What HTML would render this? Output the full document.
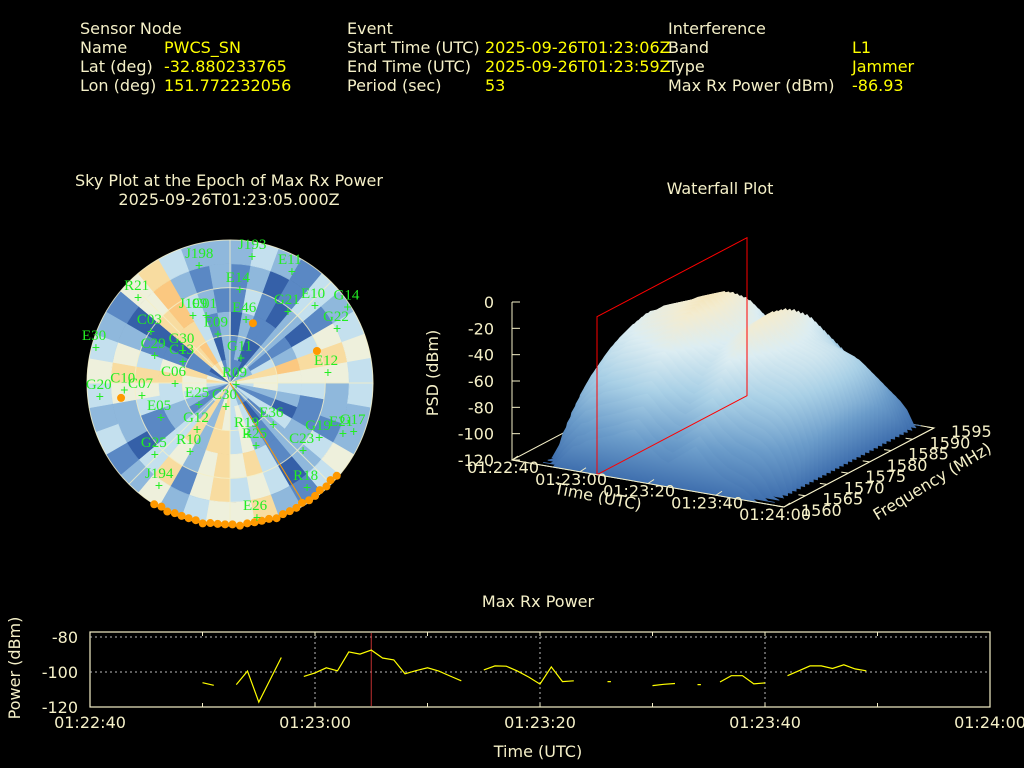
<!DOCTYPE html>
<html><head><meta charset="utf-8"><style>
html,body{margin:0;padding:0;background:#000;}
svg{display:block;font-family:"DejaVu Sans","Liberation Sans",sans-serif;}
.lab{fill:#f5f0c8;font-size:16px;}
.val{fill:#ffff00;font-size:16px;}
.ax{fill:#f5f0c8;font-size:16px;}
.sat{fill:#22ee22;font-size:15px;font-family:"Liberation Serif","DejaVu Serif",serif;}
</style></head><body>
<svg id="root" width="1024" height="768" viewBox="0 0 1024 768">
<rect width="1024" height="768" fill="#000"/>
<g>
<text class="lab" x="80" y="34">Sensor Node</text>
<text class="lab" x="80" y="53">Name</text>
<text class="val" x="164" y="53">PWCS_SN</text>
<text class="lab" x="80" y="72">Lat (deg)</text>
<text class="val" x="164" y="72">-32.880233765</text>
<text class="lab" x="80" y="91">Lon (deg)</text>
<text class="val" x="164" y="91">151.772232056</text>
</g>
<g>
<text class="lab" x="347" y="34">Event</text>
<text class="lab" x="347" y="53">Start Time (UTC)</text>
<text class="val" x="485" y="53">2025-09-26T01:23:06Z</text>
<text class="lab" x="347" y="72">End Time (UTC)</text>
<text class="val" x="485" y="72">2025-09-26T01:23:59Z</text>
<text class="lab" x="347" y="91">Period (sec)</text>
<text class="val" x="485" y="91">53</text>
</g>
<g>
<text class="lab" x="668" y="34">Interference</text>
<text class="lab" x="668" y="53">Band</text>
<text class="val" x="852" y="53">L1</text>
<text class="lab" x="668" y="72">Type</text>
<text class="val" x="852" y="72">Jammer</text>
<text class="lab" x="668" y="91">Max Rx Power (dBm)</text>
<text class="val" x="852" y="91">-86.93</text>
</g>

<text class="lab" x="229" y="186" text-anchor="middle">Sky Plot at the Epoch of Max Rx Power</text>
<text class="lab" x="229" y="205" text-anchor="middle">2025-09-26T01:23:05.000Z</text>
<g id="sky"></g>

<text class="lab" x="720" y="194" text-anchor="middle">Waterfall Plot</text>
<g id="wf"></g>

<text class="lab" x="538" y="607" text-anchor="middle">Max Rx Power</text>
<g id="pw"></g>
</svg>
<script>
const NS='http://www.w3.org/2000/svg';
function mk(parent,tag,attrs,text){const e=document.createElementNS(NS,tag);for(const k in attrs)e.setAttribute(k,attrs[k]);if(text!==undefined)e.textContent=text;parent.appendChild(e);return e;}

/* ---------------- Sky plot data ---------------- */
const skyLevels=["#3560a8","#5a88c4","#8fb8dc","#c4e0ee","#eef0dc","#f8dca0","#fbc880"];
const skyRings=[
"111032254321321233542531123541045412",
"120021354421310343452521234451156302",
"021121264320321243552532233541055312",
"131020354311221354542431134531056321",
"120131454221320343541530224542046212",
"232132343322431254432421323432145322"];
const satNames=["J193","J198","E11","R21","E14","G21","E10","G14","E46","G22","C03","J199","C01","E09","G20","E30","C29","G30","C13","G11","R09","E12","C10","C07","C06","E25","C30","E05","G12","R19","E36","G19","E21","G17","R25","G25","R10","C23","J194","R18","E26"];
const satAz=[9.9,345.2,29.2,312.7,6,39.2,47.8,57.2,14.3,63.2,302.8,331.1,340.3,346,263.9,284.6,289.8,304,294,24,108,84.2,266,261.6,269,234.6,189.5,243.1,215,160.9,134.3,121.7,114.3,111.6,157.6,226.2,210,132.9,214.6,143.7,168.7];
const satEl=[9.4,13.8,10,11.3,31,32.3,17.8,2,49,14.5,30.8,41.8,45.3,58.5,7.6,2.8,39.6,54,57.6,73,86,28,23.3,34,55.4,66,74.7,41.3,53.9,55.4,52,24,12,6.3,47,24.5,39.8,27.2,11.3,8,3.3];
const hitAz=[21,69.8,262.2];
const hitEl=[49.7,31.7,20.8];
const edgeAz=[131,134,137,140,143,146,149,152,155,158,161,164,167,170,173,176,179,182,185,188,191,194,197,200,203,206,209,212];
const edgeEl=[1,2,1,2,1,1,2,1,1,1,0,1,1,1,1,0,1,1,1,1,0,1,1,1,1,0,1,0];
const jamAz=148.5;

const CX=230,CY=383,R=143;
function skyXY(az,el){const r=R*(1-el/90);const a=az*Math.PI/180;return [CX+r*Math.sin(a),CY-r*Math.cos(a)];}
(function(){
 const g=document.getElementById('sky');
 const nr=skyRings.length;
 skyRings.forEach((row,ri)=>{
  const r0=R*ri/nr,r1=R*(ri+1)/nr;
  const n=row.length;
  for(let i=0;i<n;i++){
   const a0=(i*360/n-90)*Math.PI/180,a1=((i+1)*360/n-90)*Math.PI/180+0.01;
   const p=[[CX+r0*Math.cos(a0),CY+r0*Math.sin(a0)],[CX+r1*Math.cos(a0),CY+r1*Math.sin(a0)],[CX+r1*Math.cos(a1),CY+r1*Math.sin(a1)],[CX+r0*Math.cos(a1),CY+r0*Math.sin(a1)]];
   const c=mk(g,'path',{d:`M${p[0]}L${p[1]}A${r1},${r1} 0 0 1 ${p[2]}L${p[3]}A${r0},${r0} 0 0 0 ${p[0]}Z`,fill:skyLevels[+row[i]],stroke:skyLevels[+row[i]],'stroke-width':0.5});
   
   
  }
 });
 [R/3,2*R/3,R].forEach(r=>{const c=mk(g,'circle',{cx:CX,cy:CY,r:r,fill:'none',stroke:'#f5f0c8','stroke-width':1,opacity:0.8});
  
  });
 [0,45,90,135].forEach(d=>{const a=d*Math.PI/180;const l=mk(g,'line',{x1:CX-R*Math.sin(a),y1:CY+R*Math.cos(a),x2:CX+R*Math.sin(a),y2:CY-R*Math.cos(a),stroke:'#f5f0c8','stroke-width':1,opacity:0.8});
  
  });
 const je=skyXY(jamAz,0);
 const jl=mk(g,'line',{x1:CX,y1:CY,x2:je[0],y2:je[1],stroke:'#ff9900','stroke-width':1});
 
 
 edgeAz.forEach((az,i)=>{const p=skyXY(az,edgeEl[i]);const c=mk(g,'circle',{cx:p[0],cy:p[1],r:4,fill:'#ff9900'});
  
  });
 hitAz.forEach((az,i)=>{const p=skyXY(az,hitEl[i]);const c=mk(g,'circle',{cx:p[0],cy:p[1],r:4,fill:'#ff9900'});
  
  });
 satNames.forEach((nm,i)=>{const p=skyXY(satAz[i],satEl[i]);
  const m=mk(g,'text',{x:p[0],y:p[1]+4,'text-anchor':'middle',fill:'#22ee22','font-size':14,'font-family':'Liberation Mono,monospace'},'+');
  
  
  const t=mk(g,'text',{x:p[0]-14,y:p[1]-8,class:'sat'},nm);
  
  });
})();

/* ---------------- Waterfall data ---------------- */
const wfTimes=[8,10,12,14,16,18,20,22,24,26,28,30,32,34,36,38,40,42,44,46,48,50,52,54,56,58,60,62,64,66,68,70,72,74,76];
const wfProfile=[-85,-60,-50,-42,-36,-30,-28,-24,-22,-20,-18,-16,-13,-11,-9,-14,-20,-24,-28,-30,-26,-22,-18,-14,-20,-26,-30,-34,-36,-38,-40,-44,-50,-60,-75];
const wfFreqs=[1560,1561,1562,1563,1564,1565,1566,1567,1568,1569,1570,1571,1572,1573,1574,1575,1576,1577,1578,1579,1580,1581,1582,1583,1584,1585,1586,1587,1588,1589,1590,1591,1592,1593,1594,1595];
const wfOffset=[-72,-66,-58,-50,-42,-36,-30,-25,-20,-16,-13,-10,-7,-5,-3,-2,-1,0,0,-1,-2,-3,-5,-7,-10,-13,-16,-20,-25,-30,-35,-40,-45,-50,-55,-60];
const wfTimeTicks=["01:22:40","01:23:00","01:23:20","01:23:40","01:24:00"];
const wfFreqTicks=[1560,1565,1570,1575,1580,1585,1590,1595];
const wfZTicks=[0,-20,-40,-60,-80,-100,-120];
const markTime=25;

const A=[512,460],B=[784,507],D=[662,381];
function wp(t,f,z){const u=t/80,v=(f-1560)/35,h=(z+120)/120*158;
 return [A[0]+u*(B[0]-A[0])+v*(D[0]-A[0]), A[1]+u*(B[1]-A[1])+v*(D[1]-A[1])-h];}
(function(){
 const g=document.getElementById('wf');
 const cr='#f5f0c8';
 const defs=mk(g,'defs',{});
 const fl=mk(g,'path',{d:`M${wp(0,1560,-120)}L${wp(80,1560,-120)}L${wp(80,1595,-120)}L${wp(0,1595,-120)}Z`,fill:'none',stroke:cr,'stroke-width':1});
 
 
 const nx=47,ny=-272,nl=Math.hypot(nx,ny);
 for(let fi=wfFreqs.length-1;fi>=0;fi--){
  const f=wfFreqs[fi];
  const id='gr'+fi;const p0=wp(0,f,-120);
  const lg=mk(defs,'linearGradient',{id:id,gradientUnits:'userSpaceOnUse',x1:p0[0],y1:p0[1],x2:p0[0]+157.7*nx/nl,y2:p0[1]+157.7*ny/nl});
  [[0,'#3f6fae'],[0.25,'#6b9cca'],[0.5,'#a9d0e6'],[0.7,'#dcedf2'],[0.85,'#f3ecd0'],[1,'#f8dca0']].forEach(s=>mk(lg,'stop',{offset:s[0],'stop-color':s[1]}));
  let d='';
  wfTimes.forEach((t,i)=>{const z=Math.max(-120,wfProfile[i]+wfOffset[fi]);const p=wp(t,f,z);d+=(i?'L':'M')+p[0].toFixed(1)+','+p[1].toFixed(1);});
  const pe=wp(wfTimes[wfTimes.length-1],f,-120),ps=wp(wfTimes[0],f,-120);
  d+=`L${pe}L${ps}Z`;
  const s=mk(g,'path',{d:d,fill:`url(#${id})`,stroke:`url(#${id})`,'stroke-width':0.8});
  
  
 }
 const rp=mk(g,'path',{d:`M${wp(markTime,1560,-120)}L${wp(markTime,1595,-120)}L${wp(markTime,1595,0)}L${wp(markTime,1560,0)}Z`,fill:'none',stroke:'#ff0000','stroke-width':1});
 
 
 const fa=mk(g,'path',{d:`M${wp(0,1560,-120)}L${wp(80,1560,-120)}L${wp(80,1595,-120)}`,fill:'none',stroke:cr,'stroke-width':1});
 
 
 const za=mk(g,'line',{x1:512,y1:wp(0,1560,-120)[1],x2:512,y2:wp(0,1560,0)[1],stroke:cr});
 
 
 wfZTicks.forEach(z=>{const p=wp(0,1560,z);
  const tk=mk(g,'line',{x1:p[0],y1:p[1],x2:p[0]+8,y2:p[1],stroke:cr});
  
  
  const t=mk(g,'text',{x:p[0]-18,y:p[1]+6,class:'ax','text-anchor':'end'},String(z));
  
  });
 wfTimeTicks.forEach((lb,i)=>{const p=wp(i*20,1560,-120);
  const tk=mk(g,'line',{x1:p[0],y1:p[1],x2:p[0]+6,y2:p[1]-4,stroke:cr});
  
  
  const t=mk(g,'text',{x:p[0]+27,y:p[1]+13,class:'ax','text-anchor':'end'},lb);
  
  });
 wfFreqTicks.forEach(f=>{const p=wp(80,f,-120);
  const tk=mk(g,'line',{x1:p[0],y1:p[1],x2:p[0]-7,y2:p[1]-1,stroke:cr});
  
  
  const t=mk(g,'text',{x:p[0]+17,y:p[1]+9,class:'ax'},String(f));
  
  });
 const zt=mk(g,'text',{x:0,y:0,class:'ax','text-anchor':'middle',transform:'translate(438,373) rotate(-90)'},'PSD (dBm)');
 
 
 const tt=mk(g,'text',{x:0,y:0,class:'ax','text-anchor':'middle',transform:'translate(597,502) rotate(11)'},'Time (UTC)');
 
 
 const ft=mk(g,'text',{x:0,y:0,class:'ax','text-anchor':'middle',transform:'translate(935,486) rotate(-31)'},'Frequency (MHz)');
 
 
})();

/* ---------------- Max Rx Power data ---------------- */
const pwTime=[10,11,null,13,14,15,17,null,19,20,21,22,23,24,25,26,27,28,29,30,31,32,33,null,35,36,37,38,39,40,41,42,43,null,46,46.3,null,50,51,52,null,54,54.3,null,56,57,58,59,60,null,62,63,64,65,66,67,68,69];
const pwValue=[-106.1,-107.6,null,-107.2,-99.5,-117.2,-91.7,null,-102.5,-100.5,-97.6,-99.3,-88.5,-89.8,-87.5,-92,-93.1,-101,-99.2,-97.6,-99.5,-102.3,-105,null,-98.8,-96.5,-96.7,-99.5,-102.9,-106.9,-97.1,-105.5,-105,null,-105.5,-105.5,null,-107.8,-107,-106.6,null,-107.2,-107.2,null,-105.7,-102.1,-102.1,-106.8,-106.2,null,-102.1,-99.3,-96.5,-96.5,-98,-95.9,-98.2,-99.3];
const pwXTicks=["01:22:40","01:23:00","01:23:20","01:23:40","01:24:00"];
const pwYTicks=[-80,-100,-120];
const pwMarker=25;

(function(){
 const g=document.getElementById('pw');
 const cr='#f5f0c8';
 const X0=90,X1=990;
 const xs=t=>X0+(X1-X0)*t/80;
 const ys=v=>672-(v+100)*1.75;
 const box=mk(g,'rect',{x:X0,y:632,width:X1-X0,height:75,fill:'none',stroke:cr,'stroke-width':1.2});
 
 
 [-80,-100].forEach(v=>{const l=mk(g,'line',{x1:X0,x2:X1,y1:ys(v),y2:ys(v),stroke:'#bbb','stroke-dasharray':'2,3','stroke-width':1});
  
  });
 [20,40,60].forEach(t=>{const l=mk(g,'line',{x1:xs(t),x2:xs(t),y1:632,y2:707,stroke:'#bbb','stroke-dasharray':'2,3','stroke-width':1});
  
  });
 for(let t=0;t<=80;t+=10){[[707,-4],[632,4]].forEach(s=>{const l=mk(g,'line',{x1:xs(t),x2:xs(t),y1:s[0],y2:s[0]+s[1],stroke:cr});
  
  });}
 pwXTicks.forEach((lb,i)=>{const t=mk(g,'text',{x:xs(i*20),y:728,class:'ax','text-anchor':'middle'},lb);
  
  });
 pwYTicks.forEach(v=>{const t=mk(g,'text',{x:78,y:ys(v)+6,class:'ax','text-anchor':'end'},String(v));
  
  });
 const mkl=mk(g,'line',{x1:xs(pwMarker),x2:xs(pwMarker),y1:633,y2:706,stroke:'#c03030','stroke-width':1});
 
 
 let d='',pen=false;
 pwTime.forEach((t,i)=>{const v=pwValue[i];if(t===null||v===null){pen=false;return;}d+=(pen?'L':'M')+xs(t).toFixed(1)+','+ys(v).toFixed(1);pen=true;});
 const ln=mk(g,'path',{d:d,fill:'none',stroke:'#ffff00','stroke-width':1.2});
 
 
 const xt=mk(g,'text',{x:538,y:757,class:'ax','text-anchor':'middle'},'Time (UTC)');
 
 
 const yt=mk(g,'text',{x:0,y:0,class:'ax','text-anchor':'middle',transform:'translate(20,668) rotate(-90)'},'Power (dBm)');
 
 
})();
</script>
</body></html>
